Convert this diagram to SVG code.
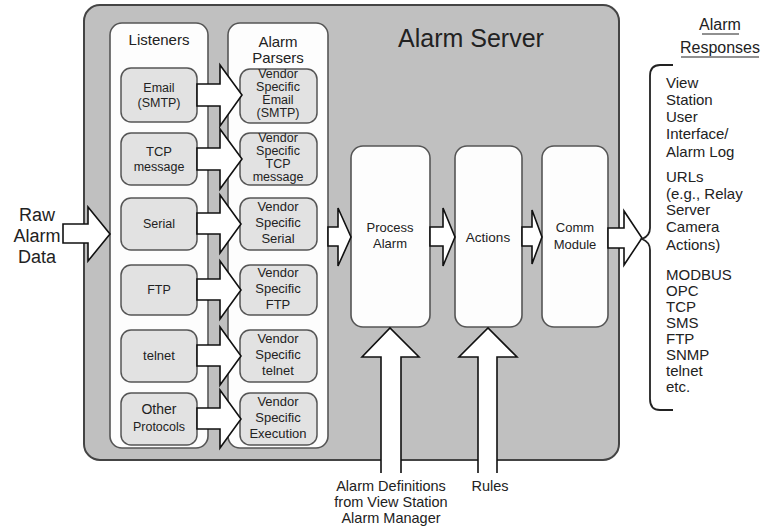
<svg xmlns="http://www.w3.org/2000/svg" width="767" height="529" viewBox="0 0 767 529">
<style>
text{font-family:"Liberation Sans",Arial,sans-serif;fill:#222;text-anchor:middle}
.outer{fill:#c0c0c0;stroke:#444;stroke-width:2}
.panel{fill:#fdfdfd;stroke:#555;stroke-width:1.6}
.node{fill:#e2e2e2;stroke:#555;stroke-width:1.5}
.arrow{fill:#fff;stroke:#111;stroke-width:1.6;stroke-linejoin:miter}
.n{font-size:13px}
.s{font-size:12.5px}
.h{font-size:15px}
.r{font-size:15px;text-anchor:start}
.u{stroke:#222;stroke-width:1.2}
</style>
<rect width="767" height="529" fill="#fff"/>
<g id="alarm-server">
<rect class="outer" x="84" y="5" width="535" height="455" rx="16"/>
<text x="471" y="47" style="font-size:25px">Alarm Server</text>
</g>
<g id="listeners">
<rect class="panel" x="110" y="23" width="98" height="425" rx="12"/>
<text class="h" x="159" y="45">Listeners</text>
</g>
<g id="parsers">
<rect class="panel" x="228" y="23" width="100" height="425" rx="12"/>
<text class="h" x="278" y="47">Alarm</text>
<text class="h" x="278" y="63">Parsers</text>
</g>
<g id="l-email"><rect class="node" x="121" y="68" width="76" height="54" rx="10"/><text class="s" x="159" y="92">Email</text><text class="s" x="159" y="107">(SMTP)</text></g>
<g id="l-tcp"><rect class="node" x="121" y="133" width="76" height="52" rx="10"/><text class="n" x="159" y="156">TCP</text><text class="s" x="159" y="171">message</text></g>
<g id="l-serial"><rect class="node" x="121" y="198" width="76" height="52" rx="10"/><text class="s" x="159" y="228">Serial</text></g>
<g id="l-ftp"><rect class="node" x="121" y="265" width="76" height="50" rx="10"/><text class="s" x="159" y="294">FTP</text></g>
<g id="l-telnet"><rect class="node" x="121" y="330" width="76" height="52" rx="10"/><text class="n" x="159" y="360">telnet</text></g>
<g id="l-other"><rect class="node" x="121" y="393" width="76" height="52" rx="10"/><text x="159" y="414" style="font-size:14px">Other</text><text class="s" x="159" y="431">Protocols</text></g>
<g id="p-email"><rect class="node" x="240" y="69" width="77" height="54" rx="10"/><text class="s" x="278" y="78">Vendor</text><text class="s" x="278" y="91">Specific</text><text class="s" x="278" y="104">Email</text><text class="s" x="278" y="117">(SMTP)</text></g>
<g id="p-tcp"><rect class="node" x="240" y="133" width="77" height="52" rx="10"/><text class="s" x="278" y="142">Vendor</text><text class="s" x="278" y="155">Specific</text><text class="s" x="278" y="168">TCP</text><text class="s" x="278" y="181">message</text></g>
<g id="p-serial"><rect class="node" x="240" y="198" width="77" height="52" rx="10"/><text class="n" x="278" y="211">Vendor</text><text class="n" x="278" y="227">Specific</text><text class="n" x="278" y="243">Serial</text></g>
<g id="p-ftp"><rect class="node" x="240" y="265" width="77" height="50" rx="10"/><text class="n" x="278" y="277">Vendor</text><text class="n" x="278" y="293">Specific</text><text class="n" x="278" y="309">FTP</text></g>
<g id="p-telnet"><rect class="node" x="240" y="330" width="77" height="52" rx="10"/><text class="n" x="278" y="343">Vendor</text><text class="n" x="278" y="359">Specific</text><text class="n" x="278" y="375">telnet</text></g>
<g id="p-exec"><rect class="node" x="240" y="393" width="77" height="52" rx="10"/><text class="n" x="278" y="406">Vendor</text><text class="n" x="278" y="422">Specific</text><text class="n" x="278" y="438">Execution</text></g>
<g id="process"><rect class="panel" x="351" y="146" width="79" height="181" rx="12"/><text class="n" x="390" y="232">Process</text><text class="n" x="390" y="248">Alarm</text></g>
<g id="actions"><rect class="panel" x="455" y="146" width="67" height="181" rx="12"/><text x="488" y="242" style="font-size:13.5px">Actions</text></g>
<g id="comm"><rect class="panel" x="542" y="146" width="66" height="181" rx="12"/><text class="n" x="575" y="232">Comm</text><text class="n" x="575" y="249">Module</text></g>
<g id="connectors">
<path class="arrow" d="M63,224 L88,224 L88,207 L110,234 L88,261 L88,243 L63,243 Z"/>
<path class="arrow" d="M197,84 L220,84 L220,65 L242,95 L220,126 L220,106 L197,106 Z"/>
<path class="arrow" d="M197,148 L220,148 L220,129 L242,159 L220,189 L220,170 L197,170 Z"/>
<path class="arrow" d="M197,213 L220,213 L220,195 L241,224 L220,253 L220,234 L197,234 Z"/>
<path class="arrow" d="M197,279 L220,279 L220,261 L241,290 L220,319 L220,300 L197,300 Z"/>
<path class="arrow" d="M197,345 L220,345 L220,327 L241,356 L220,385 L220,366 L197,366 Z"/>
<path class="arrow" d="M197,408 L220,408 L220,390 L241,419 L220,448 L220,429 L197,429 Z"/>
<path class="arrow" d="M328,227 L338,227 L338,208 L351,237 L338,266 L338,246 L328,246 Z"/>
<path class="arrow" d="M430,227 L443,227 L443,208 L455,237 L443,266 L443,246 L430,246 Z"/>
<path class="arrow" d="M522,227 L532,227 L532,210 L542,237 L532,264 L532,246 L522,246 Z"/>
<path class="arrow" d="M608,228 L624,228 L624,211 L642,238 L624,265 L624,248 L608,248 Z"/>
<path class="arrow" d="M381,473 L381,357 L362,357 L390,328 L419,357 L401,357 L401,473"/>
<path class="arrow" d="M478,473 L478,357 L459,357 L488,328 L517,357 L497,357 L497,473"/>
<path d="M673,65 L660,65 Q650,65 650,76 L650,228 Q650,236 642,239 Q650,242 650,250 L650,399 Q650,410 660,410 L673,410" fill="none" stroke="#222" stroke-width="1.8"/>
</g>
<g id="raw-label">
<text x="37" y="221" style="font-size:18px">Raw</text>
<text x="37" y="242" style="font-size:18px">Alarm</text>
<text x="37" y="263" style="font-size:18px">Data</text>
</g>
<g id="bottom-labels">
<text x="391" y="491" style="font-size:14.5px">Alarm Definitions</text>
<text x="391" y="507" style="font-size:14.5px">from View Station</text>
<text x="391" y="523" style="font-size:14.5px">Alarm Manager</text>
<text x="490" y="491" style="font-size:14.5px">Rules</text>
</g>
<g id="responses">
<text x="720" y="30" style="font-size:16px">Alarm</text>
<line class="u" x1="702" y1="34" x2="739" y2="34"/>
<text x="720" y="53" style="font-size:16px">Responses</text>
<line class="u" x1="681" y1="57" x2="759" y2="57"/>
<text class="r" x="666" y="88">View</text>
<text class="r" x="666" y="105">Station</text>
<text class="r" x="666" y="122">User</text>
<text class="r" x="666" y="139">Interface/</text>
<text class="r" x="666" y="157">Alarm Log</text>
<text class="r" x="666" y="182">URLs</text>
<text class="r" x="666" y="199">(e.g., Relay</text>
<text class="r" x="666" y="215">Server</text>
<text class="r" x="666" y="232">Camera</text>
<text class="r" x="666" y="250">Actions)</text>
<text class="r" x="666" y="280">MODBUS</text>
<text class="r" x="666" y="296">OPC</text>
<text class="r" x="666" y="312">TCP</text>
<text class="r" x="666" y="328">SMS</text>
<text class="r" x="666" y="344">FTP</text>
<text class="r" x="666" y="360">SNMP</text>
<text class="r" x="666" y="376">telnet</text>
<text class="r" x="666" y="392">etc.</text>
</g>
</svg>
